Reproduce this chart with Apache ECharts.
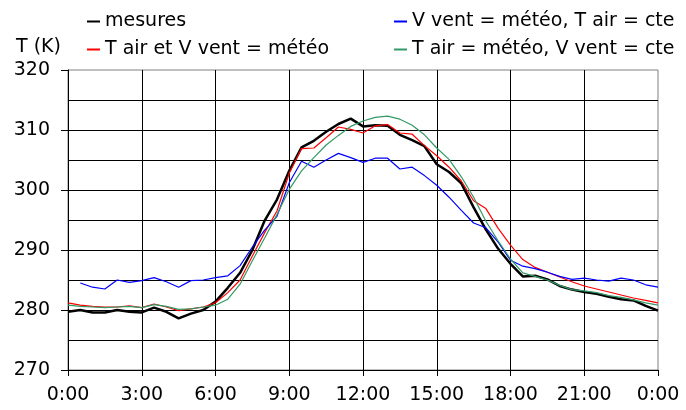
<!DOCTYPE html>
<html>
<head>
<meta charset="utf-8">
<script src="https://cdn.jsdelivr.net/npm/echarts@6/dist/echarts.min.js"></script>
<style>
  html, body { margin: 0; padding: 0; background: #fff; }
  #chart { width: 686px; height: 410px; }
</style>
</head>
<body>
<div id="chart"></div>
<script>
// heures (pas de 30 min)
const hours = [0, 0.5, 1, 1.5, 2, 2.5, 3, 3.5, 4, 4.5, 5, 5.5, 6, 6.5, 7, 7.5, 8, 8.5, 9, 9.5,
  10, 10.5, 11, 11.5, 12, 12.5, 13, 13.5, 14, 14.5, 15, 15.5, 16, 16.5, 17, 17.5, 18, 18.5, 19, 19.5,
  20, 20.5, 21, 21.5, 22, 22.5, 23, 23.5, 24]

const mesures = [279.7, 280.0, 279.6, 279.6, 280.0, 279.7, 279.6, 280.4, 279.7, 278.6, 279.4, 280.0, 281.4, 283.7, 286.2, 290.0, 294.9, 298.4, 303.2, 307.1,
  308.2, 309.7, 311.0, 311.9, 310.6, 310.8, 310.7, 309.2, 308.3, 307.3, 304.3, 303.0, 301.1, 297.1, 293.4, 290.2, 287.7, 285.6, 285.7, 285.1,
  284.0, 283.4, 283.0, 282.7, 282.2, 281.8, 281.6, 280.7, 279.9]

const ventMeteo = [null, 284.5, 283.8, 283.5, 285.0, 284.6, 284.9, 285.4, 284.7, 283.8, 284.9, 285.0, 285.4, 285.7, 287.4, 290.5, 293.3, 295.6, 301.2, 304.8,
  303.8, 305.0, 306.1, 305.4, 304.6, 305.3, 305.3, 303.5, 303.8, 302.4, 300.8, 298.8, 296.6, 294.5, 293.7, 291.3, 288.3, 287.3, 286.9, 286.3,
  285.6, 285.1, 285.3, 285.0, 284.8, 285.3, 285.0, 284.2, 283.8]

const airVentMeteo = [281.2, 280.8, 280.6, 280.5, 280.5, 280.7, 280.4, 281.0, 280.5, 279.9, 280.2, 280.5, 281.2, 282.9, 285.0, 289.0, 292.9, 296.5, 302.8, 306.9,
  307.0, 308.7, 310.5, 310.1, 309.5, 310.7, 310.9, 309.5, 309.3, 307.4, 305.7, 303.8, 301.5, 298.2, 296.9, 293.6, 290.8, 288.4, 287.1, 286.3,
  285.5, 284.7, 284.0, 283.5, 283.0, 282.5, 282.0, 281.6, 281.2]

const airMeteo = [280.8, 280.6, 280.5, 280.4, 280.5, 280.6, 280.4, 280.9, 280.6, 280.1, 280.2, 280.5, 280.8, 281.8, 284.3, 288.2, 292.0, 295.9, 300.1, 303.2,
  305.4, 307.5, 309.1, 310.6, 311.5, 312.1, 312.3, 311.8, 310.8, 309.2, 307.0, 305.1, 302.2, 298.8, 294.8, 291.5, 288.5, 286.2, 285.6, 285.0,
  284.1, 283.4, 283.2, 282.9, 282.4, 282.1, 281.7, 281.2, 280.8]

const font = 'DejaVu Sans'

function pairs(values) {
  return hours.map((h, i) => [h, values[i]])
}

const chart = echarts.init(document.getElementById('chart'))

const legendBase = {
  orient: 'vertical',
  top: 12,
  padding: 0,
  itemGap: 9,
  icon: 'rect',
  itemWidth: 13,
  itemHeight: 2,
  textStyle: { fontSize: 19, fontFamily: font, color: '#000' }
}

const option = {
  animation: false,
  title: {
    text: 'T (K)',
    left: 16,
    top: 38,
    padding: 0,
    textStyle: { fontSize: 19, fontWeight: 'normal', fontFamily: font, color: '#000' }
  },
  legend: [
    Object.assign({}, legendBase, { left: 87, data: ['mesures', 'T air et V vent = météo'] }),
    Object.assign({}, legendBase, { left: 394, data: ['V vent = météo, T air = cte', 'T air = météo, V vent = cte'] })
  ],
  grid: {
    left: 68,
    right: 28,
    top: 70,
    bottom: 40,
    show: true,
    borderColor: '#808080',
    borderWidth: 1
  },
  xAxis: {
    type: 'value',
    min: 0,
    max: 24,
    interval: 3,
    axisLine: { lineStyle: { color: '#000' } },
    axisTick: { show: true, length: 6, lineStyle: { color: '#000' } },
    axisLabel: {
      margin: 16,
      fontSize: 19,
      fontFamily: font,
      color: '#000',
      formatter: v => (v % 24) + ':00'
    },
    splitLine: { show: true, showMaxLine: false, lineStyle: { color: '#000', width: 1 } }
  },
  yAxis: {
    type: 'value',
    min: 270,
    max: 320,
    interval: 10,
    axisLine: { show: true, lineStyle: { color: '#000' } },
    axisTick: { show: true, length: 7, lineStyle: { color: '#000' } },
    axisLabel: { margin: 18, fontSize: 19, fontFamily: font, color: '#000' },
    splitLine: { show: true, showMaxLine: false, lineStyle: { color: '#000', width: 1 } },
    minorTick: { show: false, splitNumber: 2 },
    minorSplitLine: { show: true, lineStyle: { color: '#000', width: 1 } }
  },
  series: [
    {
      name: 'mesures',
      type: 'line',
      symbol: 'none',
      data: pairs(mesures),
      itemStyle: { color: '#000' },
      lineStyle: { color: '#000', width: 2.5 }
    },
    {
      name: 'T air et V vent = météo',
      type: 'line',
      symbol: 'none',
      data: pairs(airVentMeteo),
      itemStyle: { color: '#ff0000' },
      lineStyle: { color: '#ff0000', width: 1.2 }
    },
    {
      name: 'V vent = météo, T air = cte',
      type: 'line',
      symbol: 'none',
      data: pairs(ventMeteo),
      itemStyle: { color: '#0000ff' },
      lineStyle: { color: '#0000ff', width: 1.2 }
    },
    {
      name: 'T air = météo, V vent = cte',
      type: 'line',
      symbol: 'none',
      data: pairs(airMeteo),
      itemStyle: { color: '#339966' },
      lineStyle: { color: '#339966', width: 1.2 }
    }
  ]
}

chart.setOption(option)
</script>
</body>
</html>
